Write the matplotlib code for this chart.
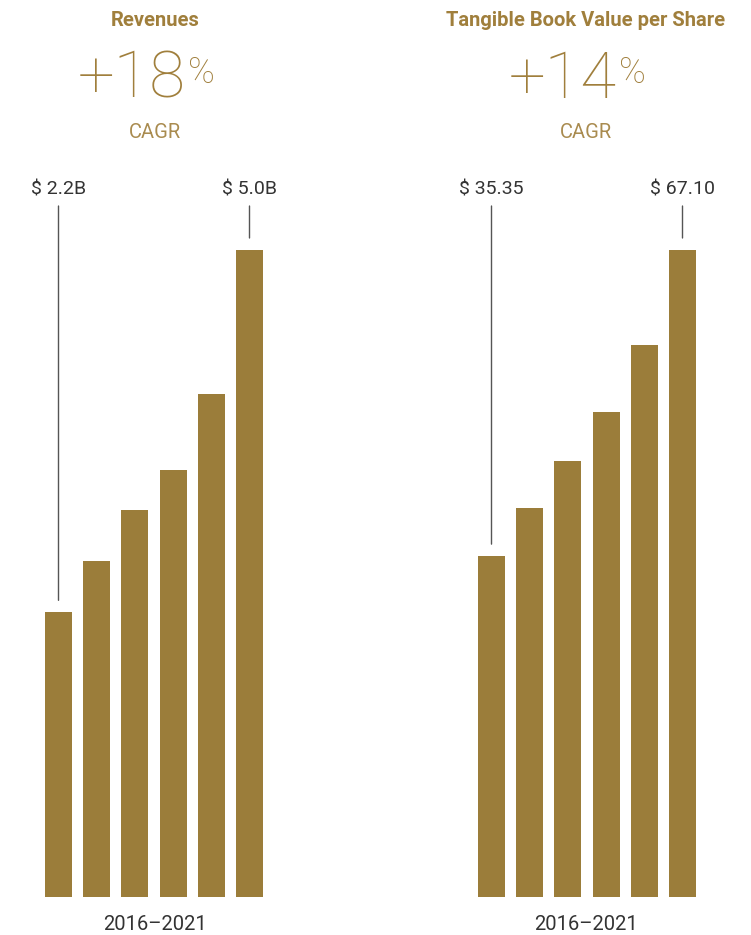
"""Two-panel growth chart: revenues and tangible book value per share, 2016-2021."""
import matplotlib
matplotlib.use("Agg")
import matplotlib.pyplot as plt
from matplotlib.transforms import blended_transform_factory

# ---- data ----
years = [2016, 2017, 2018, 2019, 2020, 2021]
revenues = [2.2, 2.60, 2.99, 3.30, 3.89, 5.0]          # $B
tbvps = [35.35, 40.3, 45.2, 50.3, 57.2, 67.10]         # $ per share
rev_labels = ["$ 2.2B", "$ 5.0B"]
tbv_labels = ["$ 35.35", "$ 67.10"]
titles = ["Revenues", "Tangible Book Value per Share"]
cagr = ["+18", "+14"]
period = "2016\u20132021"

GOLD = "#9b7d3a"
GOLD_TXT = "#a07f3c"
GOLD_LIGHT = "#a98b4f"
DARK = "#333333"
FONT = ["Roboto", "DejaVu Sans"]

W, H = 751, 935
fig = plt.figure(figsize=(W / 100, H / 100), dpi=100)


def fx(px):
    return px / W


def fy(py):
    return 1 - py / H


def panel(left_px, values, labels, title, growth, center_px):
    step = 38.2
    ax = fig.add_axes([fx(left_px), fy(897), fx(6 * step), fy(250) - fy(897)])
    ax.bar(range(len(values)), values, width=27 / step, color=GOLD)
    ax.set_xlim(-0.5, len(values) - 0.5)
    ax.set_ylim(0, max(values))
    ax.axis("off")

    tr = blended_transform_factory(ax.transData, fig.transFigure)
    for idx, lab in zip([0, len(values) - 1], labels):
        ax.annotate("", xy=(idx, values[idx]), xycoords="data",
                    xytext=(idx, fy(206)), textcoords=tr,
                    arrowprops=dict(arrowstyle="-", color="#555555", lw=1.0,
                                    shrinkA=0, shrinkB=12 * 0.72))
        ax.text(idx, fy(195), lab, transform=tr, ha="center", va="baseline",
                fontsize=14, color=DARK, family=FONT, clip_on=False)

    fig.text(fx(center_px), fy(21), title, ha="center", va="center",
             fontsize=14.5, fontweight="bold", color=GOLD_TXT, family=FONT)
    fig.text(fx(center_px + 31), fy(98), growth, ha="right", va="baseline",
             fontsize=47, fontweight="light", color=GOLD_TXT, family=FONT)
    fig.text(fx(center_px + 33), fy(83), "%", ha="left", va="baseline",
             fontsize=26, fontweight="light", color=GOLD_TXT, family=FONT)
    fig.text(fx(center_px), fy(132), "CAGR", ha="center", va="center",
             fontsize=14.5, color=GOLD_LIGHT, family=FONT)
    fig.text(fx(center_px), fy(925), period, ha="center", va="center",
             fontsize=14.5, color=DARK, family=FONT)


panel(39.4, revenues, rev_labels, titles[0], cagr[0], 155)
panel(472.4, tbvps, tbv_labels, titles[1], cagr[1], 586)

fig.savefig("out.png", dpi=100, facecolor="white")
